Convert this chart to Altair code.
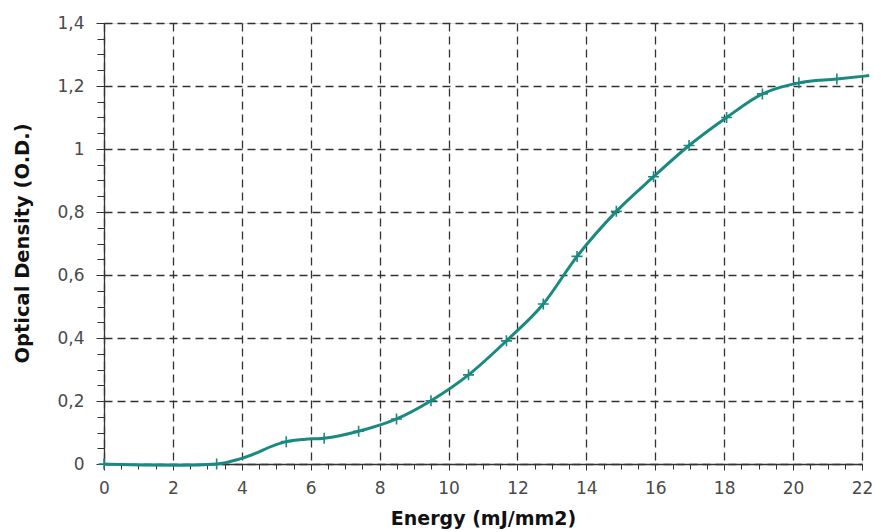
import altair as alt
import pandas as pd

# Curve
line_x = [0, 1.1, 2.2, 3.27, 4.0, 5.29, 5.8, 6.39, 7.39, 8.49, 9.49, 10.58, 11.68,
          12.75, 13.73, 14.87, 15.95, 16.98, 18.07, 19.11, 20.17, 21.27, 22.21]
line_y = [0, -0.003, -0.004, 0, 0.018, 0.071, 0.078, 0.082, 0.104, 0.143, 0.201, 0.283,
          0.391, 0.508, 0.659, 0.802, 0.912, 1.011, 1.10, 1.175, 1.21, 1.222, 1.233]

# Marker positions
marker_x = [0, 3.27, 5.29, 6.39, 7.39, 8.49, 9.49, 10.58, 11.68, 12.75, 13.73,
            14.87, 15.95, 16.98, 18.07, 19.11, 20.17, 21.27]
marker_y = [0, 0, 0.071, 0.082, 0.104, 0.143, 0.201, 0.283, 0.391, 0.508, 0.659,
            0.802, 0.912, 1.011, 1.10, 1.175, 1.21, 1.222]

x_major = [0, 2, 4, 6, 8, 10, 12, 14, 16, 18, 20, 22]
y_major = [0, 0.2, 0.4, 0.6, 0.8, 1, 1.2, 1.4]
x_minor = [round(i * 0.5, 2) for i in range(45)]
y_minor = [round(i * 0.05, 2) for i in range(29)]

line_df = pd.DataFrame({"x": line_x, "y": line_y})
mark_df = pd.DataFrame({"x": marker_x, "y": marker_y})

TEAL = "#1a8a80"
FONT = "DejaVu Sans"

xscale = alt.Scale(domain=[0, 22], nice=False, zero=False)
yscale = alt.Scale(domain=[0, 1.4], nice=False, zero=False)

x_major_axis = alt.Axis(
    orient="bottom", values=x_major, title="Energy (mJ/mm2)", grid=True,
    gridDash=[8, 5], gridColor="#333333", gridWidth=1.3, tickSize=6, tickColor="#333333",
    domainColor="#333333", domainWidth=1.3, labelFont=FONT, labelFontSize=17,
    labelColor="#4a4a4a", labelPadding=10, labelFlush=False, labelOverlap=False,
    titleFont=FONT, titleFontSize=19,
    titleFontWeight="bold", titleColor="#111111", titleY=60, titleBaseline="alphabetic",
)
y_major_axis = alt.Axis(
    orient="left", values=y_major, title="Optical Density (O.D.)", grid=True,
    gridDash=[8, 5], gridColor="#333333", gridWidth=1.3, tickSize=8, tickColor="#333333",
    domainColor="#333333", domainWidth=1.3, labelFont=FONT, labelFontSize=17,
    labelColor="#4a4a4a", labelPadding=12, labelFlush=False, labelOverlap=False,
    labelExpr="replace(toString(datum.value), '.', ',')",
    titleFont=FONT, titleFontSize=19.5, titleFontWeight="bold", titleColor="#111111",
    titleX=-82, titleY=220, titleBaseline="middle",
)
x_minor_axis = alt.Axis(
    orient="bottom", values=x_minor, title=None, labels=False, grid=False, domain=False,
    tickSize=5, tickColor="#333333",
)
y_minor_axis = alt.Axis(
    orient="left", values=y_minor, title=None, labels=False, grid=False, domain=False,
    tickSize=7, tickColor="#333333",
)

line = alt.Chart(line_df).mark_line(
    interpolate="monotone", color=TEAL, strokeWidth=3
).encode(
    x=alt.X("x:Q", scale=xscale, axis=x_major_axis),
    y=alt.Y("y:Q", scale=yscale, axis=y_major_axis),
)

markers = alt.Chart(mark_df).mark_point(
    shape="M-1,0L1,0M0,-1L0,1", size=121, filled=False, color=TEAL, strokeWidth=1.6,
    opacity=1,
).encode(
    x=alt.X("x:Q", scale=xscale, axis=x_minor_axis),
    y=alt.Y("y:Q", scale=yscale, axis=y_minor_axis),
)

chart = alt.layer(line, markers).resolve_axis(
    x="independent", y="independent"
).properties(
    width=758, height=441,
    autosize=alt.AutoSizeParams(type="none"),
    padding={"left": 96, "top": 15, "right": 11, "bottom": 68},
).configure_view(
    stroke="#333333", strokeWidth=1.3
).configure(background="white")

chart.save("out.html", embed_options={"renderer": "svg", "actions": False})
